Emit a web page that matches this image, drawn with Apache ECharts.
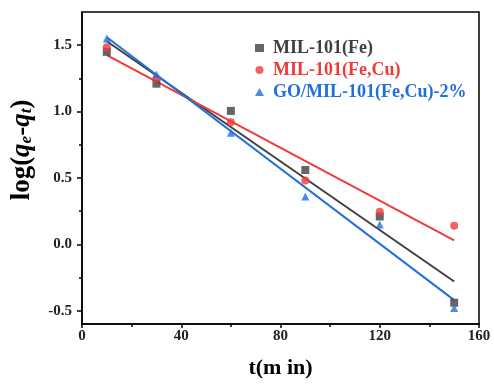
<!DOCTYPE html>
<html><head><meta charset="utf-8">
<script src="https://cdn.jsdelivr.net/npm/echarts@6/dist/echarts.min.js"></script>
<style>html,body{margin:0;padding:0;background:#fff}#c{width:494px;height:384px}</style>
</head><body><div id="c"></div>
<script>
const times = [10, 30, 60, 90, 120, 150];
const feVals = [1.45, 1.21, 1.005, 0.56, 0.21, -0.44];
const feCuVals = [1.485, 1.25, 0.92, 0.48, 0.245, 0.14];
const goVals = [1.55, 1.28, 0.84, 0.36, 0.15, -0.48];
const fitX = [10, 150];
const feFit = [1.53, -0.28];
const feCuFit = [1.425, 0.03];
const goFit = [1.56, -0.42];
const names = ['MIL-101(Fe)', 'MIL-101(Fe,Cu)', 'GO/MIL-101(Fe,Cu)-2%'];
const colors = ['#404040', '#f03a3a', '#1f6fe0'];
const yMajor = [-0.5, 0, 0.5, 1.0, 1.5];
const yMinor = [-0.25, 0.25, 0.75, 1.25];

const pair = (xs, ys) => xs.map((x, i) => [x, ys[i]]);
const serif = 'Liberation Serif';
const chart = echarts.init(document.getElementById('c'));
const pts = [feVals, feCuVals, goVals];
const fits = [feFit, feCuFit, goFit];
const syms = ['rect', 'circle', 'triangle'];
const series = [];
for (let i = 0; i < 3; i++) {
  series.push({type: 'line', data: pair(fitX, fits[i]), symbol: 'none', lineStyle: {color: colors[i], width: 2}, silent: true, z: 2});
}
for (let i = 0; i < 3; i++) {
  series.push({type: 'scatter', name: names[i], data: pair(times, pts[i]), symbol: syms[i], symbolSize: 8, itemStyle: {color: colors[i]}, z: 3});
}
chart.setOption({
  animation: false,
  grid: {left: 82, right: 15, top: 12, bottom: 58, show: true, borderColor: '#000', borderWidth: 1.5},
  legend: {
    orient: 'vertical', left: 250, top: 34, itemGap: 4, itemWidth: 9, itemHeight: 8,
    data: names.map((n, i) => ({name: n, icon: syms[i], textStyle: {color: colors[i]}})),
    textStyle: {fontFamily: serif, fontSize: 18, fontWeight: 'bold', padding: [0, 0, 0, 4]}
  },
  graphic: [{
    type: 'text', x: 22, y: 150, rotation: Math.PI / 2,
    style: {
      text: '{n|log(}{i|q}{s|e}{n|-}{i|q}{s|t}{n|)}', align: 'center', verticalAlign: 'middle',
      rich: {
        n: {fontFamily: serif, fontSize: 27, fontWeight: 'bold', fill: '#000'},
        i: {fontFamily: serif, fontSize: 27, fontWeight: 'bold', fontStyle: 'italic', fill: '#000'},
        s: {fontFamily: serif, fontSize: 17, fontWeight: 'bold', fontStyle: 'italic', fill: '#000', padding: [10, 0, 0, 0]}
      }
    }
  }],
  xAxis: {
    type: 'value', min: 0, max: 160, interval: 40,
    axisLine: {onZero: false, lineStyle: {color: '#000', width: 1.5}},
    axisTick: {show: true, length: 4, lineStyle: {color: '#000', width: 1.5}},
    minorTick: {show: true, splitNumber: 2, length: 3, lineStyle: {color: '#000', width: 1.5}},
    splitLine: {show: false},
    axisLabel: {fontFamily: serif, fontSize: 15, fontWeight: 'bold', color: '#222', margin: 5},
    name: 't(m in)', nameLocation: 'middle', nameGap: 33,
    nameTextStyle: {fontFamily: serif, fontSize: 22, fontWeight: 'bold', color: '#000'}
  },
  yAxis: [{
    type: 'value', min: -0.6, max: 1.75,
    axisLine: {show: true, onZero: false, lineStyle: {color: '#000', width: 1.5}},
    axisTick: {show: true, length: 5, customValues: yMajor, lineStyle: {color: '#000', width: 1.5}},
    splitLine: {show: false},
    axisLabel: {customValues: yMajor, formatter: v => v.toFixed(1), fontFamily: serif, fontSize: 15, fontWeight: 'bold', color: '#222', margin: 10}
  }, {
    type: 'value', min: -0.6, max: 1.75, position: 'left',
    axisLine: {show: false, onZero: false},
    axisTick: {show: true, length: 3, customValues: yMinor, lineStyle: {color: '#000', width: 1.5}},
    axisLabel: {show: false}, splitLine: {show: false}
  }],
  series: series
});
</script></body></html>
